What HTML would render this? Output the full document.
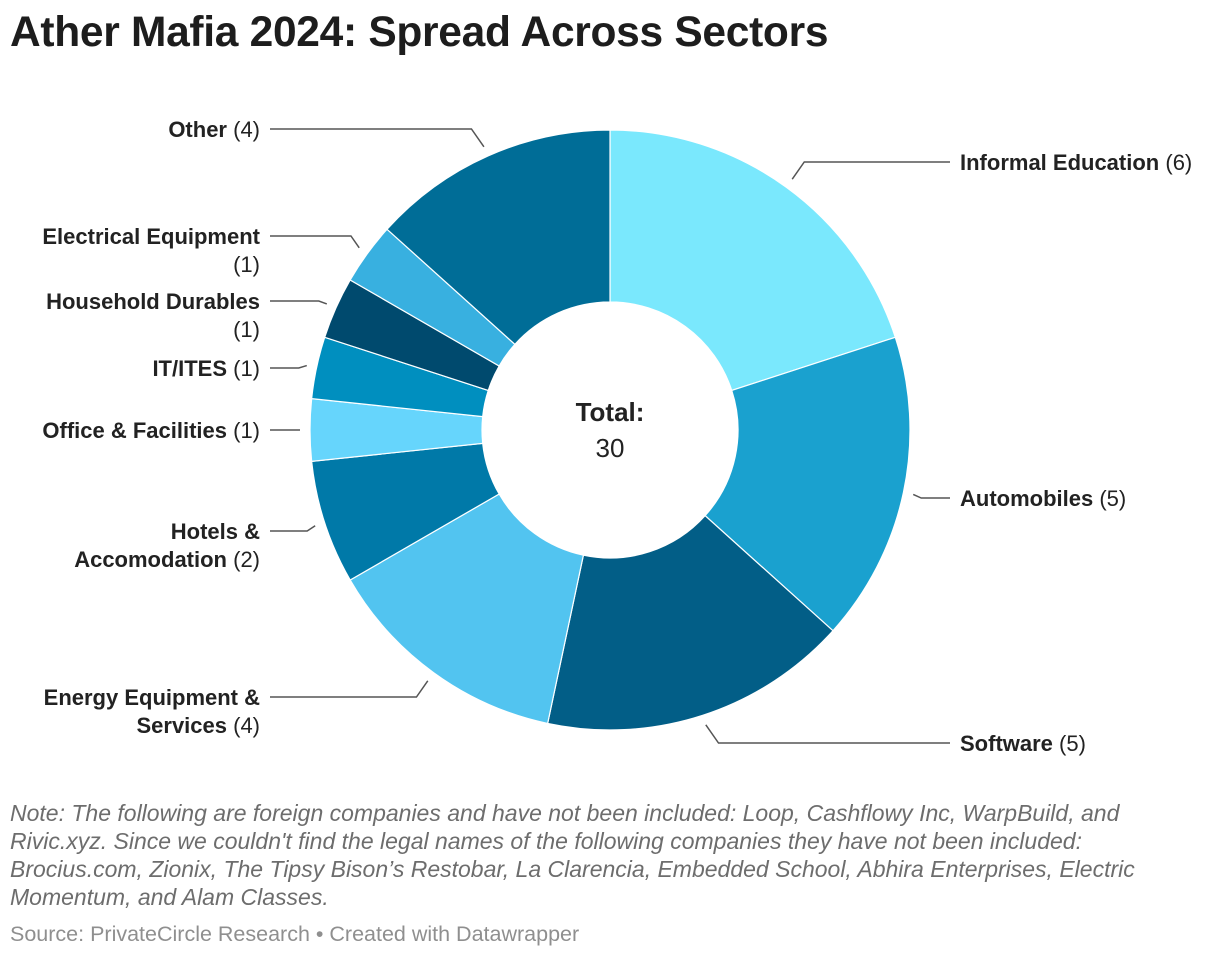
<!DOCTYPE html>
<html><head><meta charset="utf-8"><style>
body{margin:0;background:#fff;width:1220px;height:958px;overflow:hidden;font-family:"Liberation Sans",Arial,sans-serif;}
h1{position:absolute;left:10px;top:9px;margin:0;font-size:42.5px;font-weight:bold;color:#1d1d1d;letter-spacing:-0.3px;white-space:nowrap}
.note{position:absolute;left:10px;top:799px;font-size:23px;font-style:italic;color:#6d6d6d;line-height:28px;white-space:nowrap}
.src{position:absolute;left:10px;top:922px;font-size:21.5px;color:#8f8f8f}
svg{position:absolute;left:0;top:0}
</style></head><body>
<h1>Ather Mafia 2024: Spread Across Sectors</h1>
<svg id="chart" width="1220" height="958"></svg>
<div class="note">Note: The following are foreign companies and have not been included: Loop, Cashflowy Inc, WarpBuild, and<br>Rivic.xyz. Since we couldn't find the legal names of the following companies they have not been included:<br>Brocius.com, Zionix, The Tipsy Bison’s Restobar, La Clarencia, Embedded School, Abhira Enterprises, Electric<br>Momentum, and Alam Classes.</div>
<div class="src">Source: PrivateCircle Research • Created with Datawrapper</div>
<script>
const categories=["Informal Education","Automobiles","Software","Energy Equipment & Services","Hotels & Accomodation","Office & Facilities","IT/ITES","Household Durables","Electrical Equipment","Other"];
const values=[6,5,5,4,2,1,1,1,1,4];
const colors=["#7ae8fd","#1aa1cf","#025e87","#52c4f0","#0079a8","#66d5fc","#008fbf","#004a6e","#38b0e0","#006d97"];
const labelLines=[["Informal Education"],["Automobiles"],["Software"],["Energy Equipment &","Services"],["Hotels &","Accomodation"],["Office & Facilities"],["IT/ITES"],["Household Durables",""],["Electrical Equipment",""],["Other"]];
const labelY=[162,498,743,697,531,430,368,301,236,129];
const NS="http://www.w3.org/2000/svg";
const svg=document.getElementById('chart');
const cx=610,cy=430,R=300,r=128;
const total=values.reduce((a,b)=>a+b,0);
function pt(a,rad){return [cx+rad*Math.sin(a),cy-rad*Math.cos(a)];}
function mk(tag,attrs){const e=document.createElementNS(NS,tag);for(const k in attrs)e.setAttribute(k,attrs[k]);svg.appendChild(e);return e;}
let acc=0;
values.forEach((v,i)=>{
  const a0=acc/total*2*Math.PI,a1=(acc+v)/total*2*Math.PI;acc+=v;
  const large=(a1-a0)>Math.PI?1:0;
  const p0=pt(a0,R),p1=pt(a1,R),q1=pt(a1,r),q0=pt(a0,r);
  const p=mk('path',{d:`M${p0} A${R},${R} 0 ${large} 1 ${p1} L${q1} A${r},${r} 0 ${large} 0 ${q0}Z`,fill:colors[i],stroke:'#fff','stroke-width':1.2});
  
  
  const am=(a0+a1)/2;const s=pt(am,R+10);const right=Math.sin(am)>0;
  const ly=labelY[i];
  const ex=right?s[0]+Math.max(8,Math.abs(ly-s[1])*0.7):s[0]-Math.max(8,Math.abs(ly-s[1])*0.7);
  const endx=right?950:270;
  const l=mk('polyline',{points:`${s} ${ex},${ly} ${endx},${ly}`,fill:'none',stroke:'#555','stroke-width':1.5});
  
  
  const t=mk('text',{x:right?960:260,y:ly+8,'text-anchor':right?'start':'end','font-size':22,fill:'#222'});
  
  
  const lines=labelLines[i];
  lines.forEach((ln,j)=>{
    const ts=document.createElementNS(NS,'tspan');
    ts.setAttribute('x',right?960:260);ts.setAttribute('dy',j?28:0);
    if(ln){const b=document.createElementNS(NS,'tspan');b.setAttribute('font-weight','bold');b.textContent=ln;ts.appendChild(b);}
    if(j===lines.length-1){const n=document.createElementNS(NS,'tspan');n.textContent=(ln?' ':'')+'('+v+')';ts.appendChild(n);}
    t.appendChild(ts);
  });
});
const t1=mk('text',{x:cx,y:421,'text-anchor':'middle','font-size':26,'font-weight':'bold',fill:'#222'});t1.textContent='Total:';


const t2=mk('text',{x:cx,y:457,'text-anchor':'middle','font-size':26,fill:'#222'});t2.textContent=total;


</script>
</body></html>
